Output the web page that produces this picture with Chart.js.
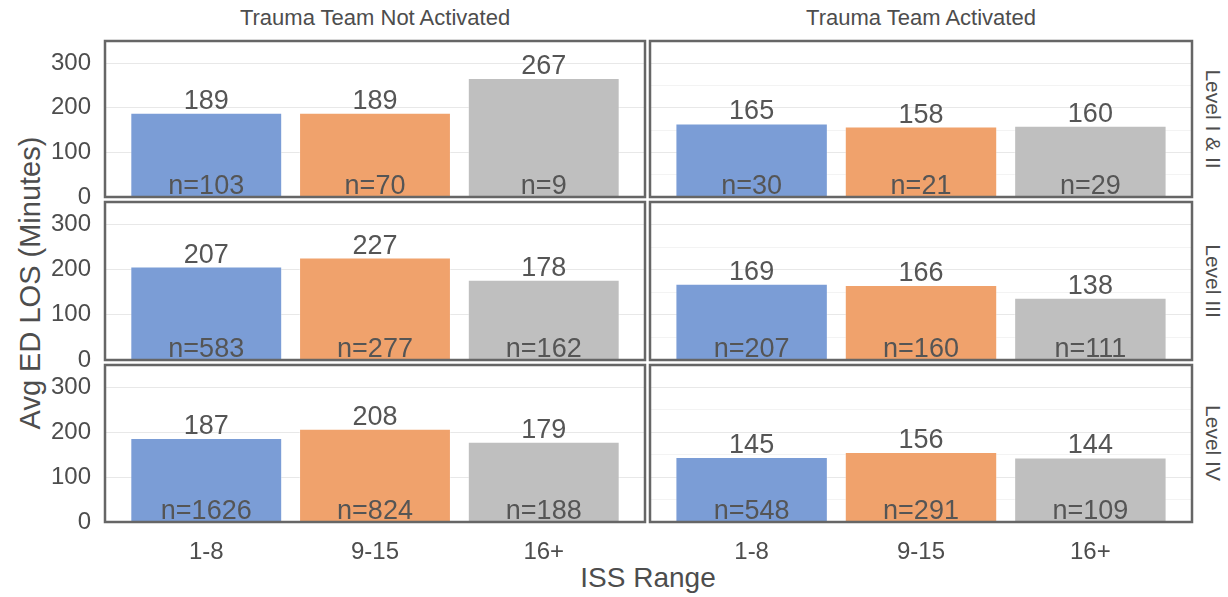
<!DOCTYPE html>
<html>
<head>
<meta charset="utf-8">
<script src="https://cdn.jsdelivr.net/npm/chart.js@4/dist/chart.umd.min.js"></script>
<style>
  body { margin: 0; background: #fff; }
  #wrap { position: relative; width: 1228px; height: 597px; overflow: hidden; font-family: "Liberation Sans", Arial, sans-serif; color: #4d4d4d; }
  canvas { position: absolute; left: 0; top: 0; }
  .lbl { position: absolute; white-space: nowrap; transform: translate(-50%, -50%); line-height: 1; }
</style>
</head>
<body>
<div id="wrap">
  <div class="lbl" style="left:375px;top:18px;font-size:22px;">Trauma Team Not Activated</div>
  <div class="lbl" style="left:921px;top:18px;font-size:22px;">Trauma Team Activated</div>
  <div class="lbl" style="left:1213px;top:119px;font-size:21px;writing-mode:vertical-rl;">Level I &amp; II</div>
  <div class="lbl" style="left:1213px;top:281px;font-size:21px;writing-mode:vertical-rl;">Level III</div>
  <div class="lbl" style="left:1213px;top:443px;font-size:21px;writing-mode:vertical-rl;">Level IV</div>
  <div class="lbl" style="left:30px;top:283px;font-size:29px;transform:translate(-50%,-50%) rotate(-90deg);">Avg ED LOS (Minutes)</div>
  <div class="lbl" style="left:648px;top:578px;font-size:28px;">ISS Range</div>
</div>
<script>
// categories on the x axis, one panel row per level, one column per activation group
const categories = ["1-8", "9-15", "16+"];
const levels = ["Level I & II", "Level III", "Level IV"];
const groups = ["Trauma Team Not Activated", "Trauma Team Activated"];

// average ED LOS (minutes), rows = levels
const meanNotActivated = [[189, 189, 267], [207, 227, 178], [187, 208, 179]];
const meanActivated    = [[165, 158, 160], [169, 166, 138], [145, 156, 144]];
// patient counts
const nNotActivated = [[103, 70, 9], [583, 277, 162], [1626, 824, 188]];
const nActivated    = [[30, 21, 29], [207, 160, 111], [548, 291, 109]];

const yTicks = [0, 100, 200, 300];
const barColors = ["#7b9dd6", "#f0a26c", "#bfbfbf"];

// panel frame in page pixels
const rowTop = [41, 202, 365];
const rowBottom = [197, 360, 522];
const colLeft = [105, 650];
const colRight = [645, 1192];
const W = 1228, H = 597;
const yAxisW = 60, xAxisH = 50;
const FONT = '"Liberation Sans", Arial, sans-serif';
const TXT = "#4d4d4d";

const panelPlugin = {
  id: "panel",
  afterDatasetsDraw(chart) {
    const ctx = chart.ctx;
    const a = chart.chartArea;
    const counts = chart.options.plugins.panel.counts;
    const meta = chart.getDatasetMeta(0);
    ctx.save();
    ctx.fillStyle = "#555";
    ctx.textAlign = "center";
    ctx.textBaseline = "alphabetic";
    ctx.font = "27px " + FONT;
    meta.data.forEach((bar, i) => {
      const v = chart.data.datasets[0].data[i].y;
      ctx.fillText(String(v), bar.x, bar.y - 4);
      ctx.fillText("n=" + counts[i], bar.x, a.bottom - 3);
    });
    ctx.strokeStyle = "#666";
    ctx.lineWidth = 2.5;
    ctx.strokeRect(a.left, a.top, a.right - a.left, a.bottom - a.top);
    ctx.restore();
  }
};

function makePanel(r, c) {
  const cv = document.createElement("canvas");
  cv.width = W; cv.height = H;
  document.getElementById("wrap").appendChild(cv);
  const means = c === 0 ? meanNotActivated[r] : meanActivated[r];
  const counts = c === 0 ? nNotActivated[r] : nActivated[r];
  const showY = c === 0;
  const showX = r === 2;
  new Chart(cv, {
    type: "bar",
    data: {
      datasets: [{
        data: means.map((v, i) => ({ x: i + 1, y: v })),
        backgroundColor: barColors,
        borderColor: "rgba(255,255,255,0.35)",
        borderWidth: 1,
        borderSkipped: "bottom",
        barPercentage: 0.9,
        categoryPercentage: 1
      }]
    },
    options: {
      responsive: false,
      animation: false,
      devicePixelRatio: 1,
      layout: {
        padding: {
          top: rowTop[r],
          bottom: H - rowBottom[r] - (showX ? xAxisH : 0),
          left: colLeft[c] - (showY ? yAxisW : 0),
          right: W - colRight[c]
        }
      },
      plugins: {
        legend: { display: false },
        tooltip: { enabled: false },
        panel: { counts: counts }
      },
      scales: {
        x: {
          type: "linear",
          min: 0.4, max: 3.6,
          offset: false,
          display: showX,
          grid: { display: false, drawTicks: false },
          border: { display: false },
          afterBuildTicks: s => { s.ticks = categories.map((_, i) => ({ value: i + 1 })); },
          afterFit: s => { s.height = showX ? xAxisH : 0; },
          ticks: {
            color: TXT,
            padding: 16,
            font: { family: FONT, size: 24 },
            callback: v => categories[v - 1]
          }
        },
        y: {
          min: 0, max: 350,
          border: { display: false },
          grid: {
            drawTicks: false,
            color: ctx => (yTicks.includes(ctx.tick.value) ? "#e8e8e8" : "#f3f3f3"),
            lineWidth: 1
          },
          afterFit: s => { s.width = showY ? yAxisW : 0; },
          ticks: {
            display: showY,
            stepSize: 50,
            padding: 14,
            color: TXT,
            font: { family: FONT, size: 24 },
            callback: v => (yTicks.includes(v) ? String(v) : "")
          }
        }
      }
    },
    plugins: [panelPlugin]
  });
}

for (let r = 0; r < levels.length; r++) {
  for (let c = 0; c < groups.length; c++) makePanel(r, c);
}
</script>
</body>
</html>
